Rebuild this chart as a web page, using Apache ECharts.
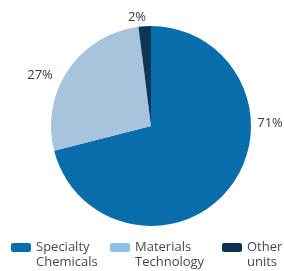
<!DOCTYPE html>
<html>
<head>
<meta charset="utf-8">
<script src="https://cdn.jsdelivr.net/npm/echarts@6/dist/echarts.min.js"></script>
<style>
  html, body { margin: 0; padding: 0; background: #fff; }
  #chart { width: 284px; height: 271px; }
</style>
</head>
<body>
<div id="chart"></div>
<script>
// 数据
const categories = ['Specialty\nChemicals', 'Materials\nTechnology', 'Other\nunits'];
const shares = [71, 27, 2];
const sliceColors = ['#0a6dab', '#a8c3dc', '#0d3558'];
const legendColors = ['#0a6dab', '#8fbee6', '#0b3050'];

// label 位置（相对圆心的偏移）
const labelShift = [[119, -3], [-111, -51], [-14, -109]];
const legendLeft = [11, 110, 222];
const legendGap = [4, 5, 8];

const chart = echarts.init(document.getElementById('chart'));

const cx = 151, cy = 126;

chart.setOption({
  animation: false,
  // 每个 legend 单独定位，空行让第一行和色块对齐
  legend: categories.map((name, i) => ({
    data: [{ name: name, itemStyle: { color: legendColors[i] } }],
    formatter: n => '\n' + n,
    left: legendLeft[i],
    top: 225,
    padding: 0,
    itemWidth: 20,
    itemHeight: 9,
    itemGap: legendGap[i],
    selectedMode: false,
    textStyle: {
      fontFamily: 'Open Sans',
      fontSize: 13,
      lineHeight: 15,
      color: '#4a4a4a'
    }
  })),
  series: [{
    type: 'pie',
    center: [cx, cy],
    radius: 100,
    startAngle: 90,
    clockwise: true,
    data: categories.map((name, i) => ({
      name: name,
      value: shares[i],
      itemStyle: { color: sliceColors[i] }
    })),
    label: {
      show: true,
      position: 'outside',
      formatter: '{c}%',
      overflow: 'none',
      fontFamily: 'Open Sans',
      fontSize: 13,
      color: '#3a3a3a'
    },
    labelLine: { show: false },
    labelLayout: function (params) {
      const s = labelShift[params.dataIndex];
      return { x: cx + s[0], y: cy + s[1], align: 'center', verticalAlign: 'middle' };
    },
    emphasis: { disabled: true }
  }]
});
</script>
</body>
</html>
